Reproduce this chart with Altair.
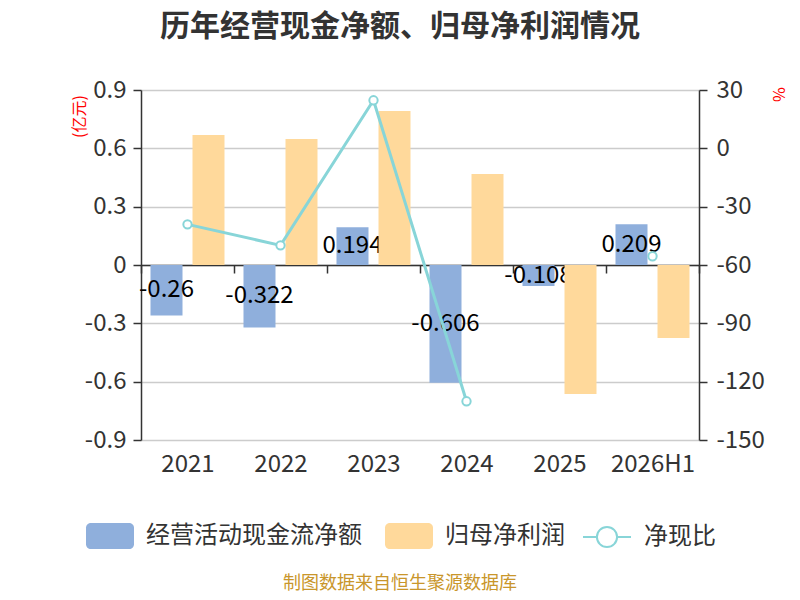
import altair as alt
import pandas as pd

cats = ["2021", "2022", "2023", "2024", "2025", "2026H1"]
cash = [-0.26, -0.322, 0.194, -0.606, -0.108, 0.209]
profit = [0.669, 0.648, 0.792, 0.468, -0.664, -0.376]
ratio = [-39.1, -49.9, 24.7, -130.1, None, -55.5]

s_cash = "经营活动现金流净额"
s_profit = "归母净利润"
s_ratio = "净现比"

left_ticks = [-0.9, -0.6, -0.3, 0, 0.3, 0.6, 0.9]
right_ticks = [-150, -120, -90, -60, -30, 0, 30]

BLUE = "#8fafdc"
ORANGE = "#ffd99b"
TEAL = "#88d5d8"
FONT = "Noto Sans CJK SC"

cash_df = pd.DataFrame({"cat": cats, "series": s_cash, "value": cash,
                        "mid": [v / 2 for v in cash], "label": [str(v) for v in cash]})
profit_df = pd.DataFrame({"cat": cats, "series": s_profit, "value": profit})
ratio_df = pd.DataFrame({"cat": cats, "series": s_ratio, "ratio": ratio})

x_enc = alt.X("cat:N", sort=cats, title=None,
              scale=alt.Scale(paddingInner=0, paddingOuter=0),
              axis=alt.Axis(offset=-175, tickBand="extent", tickSize=8, tickColor="#333",
                            tickWidth=1.5, domainColor="#333", domainWidth=1.5,
                            labelPadding=179, labelFontSize=24, labelColor="#333",
                            labelFont=FONT, labelAngle=0, grid=False))
xoff = alt.XOffset("series:N", scale=alt.Scale(domain=[s_cash, s_profit],
                                               paddingInner=0.238, paddingOuter=0.226))

left_axis = alt.Axis(values=left_ticks, labelExpr="'' + datum.value", tickSize=8,
                     tickColor="#333", tickWidth=1.5, domainColor="#333", domainWidth=1.5,
                     labelPadding=7, labelFontSize=24, labelColor="#333", labelFont=FONT,
                     grid=True, gridColor="#cccccc", gridWidth=1.5,
                     title="(亿元)", titleColor="red", titleFontSize=16, titleFont=FONT,
                     titleFontWeight="normal", titleX=-62, titleY=26, titleAngle=-90,
                     titleAlign="center", titleBaseline="middle")
left_scale = alt.Scale(domain=[-0.9, 0.9], nice=False, zero=False)

fill_enc = alt.Fill("series:N", scale=alt.Scale(domain=[s_cash, s_profit], range=[BLUE, ORANGE]),
                    legend=alt.Legend(orient="none", legendX=-55, legendY=422, direction="horizontal",
                                      title=None, symbolType="M-0.8,-0.54H0.8A0.2,0.2 0 0 1 1,-0.34V0.34A0.2,0.2 0 0 1 0.8,0.54H-0.8A0.2,0.2 0 0 1 -1,0.34V-0.34A0.2,0.2 0 0 1 -0.8,-0.54Z",
                                      symbolSize=2304, symbolStrokeWidth=0, symbolOpacity=1,
                                      labelFontSize=24, labelColor="#333", labelFont=FONT,
                                      labelLimit=0, labelOffset=12, columnPadding=22))

blue = alt.Chart(cash_df).mark_bar(opacity=1).encode(
    x=x_enc, xOffset=xoff,
    y=alt.Y("value:Q", scale=left_scale, axis=left_axis),
    fill=fill_enc,
)
labels = alt.Chart(cash_df).mark_text(fontSize=24, font=FONT, color="black", baseline="middle").encode(
    x=x_enc, xOffset=xoff,
    y=alt.Y("mid:Q", scale=left_scale, axis=left_axis),
    text="label:N",
)
orange = alt.Chart(profit_df).mark_bar(opacity=1).encode(
    x=x_enc, xOffset=xoff,
    y=alt.Y("value:Q", scale=left_scale, axis=left_axis),
    fill=fill_enc,
)

right_axis = alt.Axis(values=right_ticks, orient="right", labelExpr="'' + datum.value", tickSize=8,
                      tickColor="#333", tickWidth=1.5, domainColor="#333", domainWidth=1.5,
                      labelPadding=9, labelFontSize=24, labelColor="#333", labelFont=FONT,
                      grid=False, title="%", titleColor="red", titleFontSize=16, titleFont=FONT,
                      titleFontWeight="normal", titleX=78, titleY=4, titleAngle=90,
                      titleAlign="center", titleBaseline="middle")

line = alt.Chart(ratio_df).mark_line(
    strokeWidth=3,
    point=alt.OverlayMarkDef(filled=False, fill="white", size=70, strokeWidth=2),
).encode(
    x=x_enc,
    y=alt.Y("ratio:Q", scale=alt.Scale(domain=[-150, 30], nice=False, zero=False), axis=right_axis),
    stroke=alt.Stroke("series:N", scale=alt.Scale(domain=[s_ratio], range=[TEAL]),
                      legend=alt.Legend(orient="none", legendX=441, legendY=422, title=None,
                                        symbolType="M-1,0H-0.42M0.42,0H1M0.42,0A0.42,0.42 0 1 1 -0.42,0A0.42,0.42 0 1 1 0.42,0",
                                        symbolSize=2304, symbolStrokeWidth=2, symbolFillColor="white",
                                        symbolOpacity=1, labelLimit=0,
                                        labelFontSize=24, labelColor="#333", labelFont=FONT,
                                        labelOffset=12)),
)

source = alt.Chart(pd.DataFrame({"t": ["制图数据来自恒生聚源数据库"]})).mark_text(
    fontSize=18, font=FONT, color="#c9962b", baseline="middle", align="center"
).encode(x=alt.value(259), y=alt.value(494), text="t:N")

bars = alt.layer(blue, labels, orange)
chart = alt.layer(bars, line, source).resolve_scale(y="independent").properties(
    width=558, height=350,
    autosize=alt.AutoSizeParams(type="none"),
    padding={"left": 133, "top": 82, "right": 93, "bottom": 152},
    title=alt.TitleParams("历年经营现金净额、归母净利润情况", fontSize=30, font=FONT, fontWeight="bold",
                          color="#333", anchor="middle", frame="group", dx=-20, offset=36),
).configure_view(stroke=None)

chart.save("out.html", embed_options={"renderer": "svg", "actions": False})
